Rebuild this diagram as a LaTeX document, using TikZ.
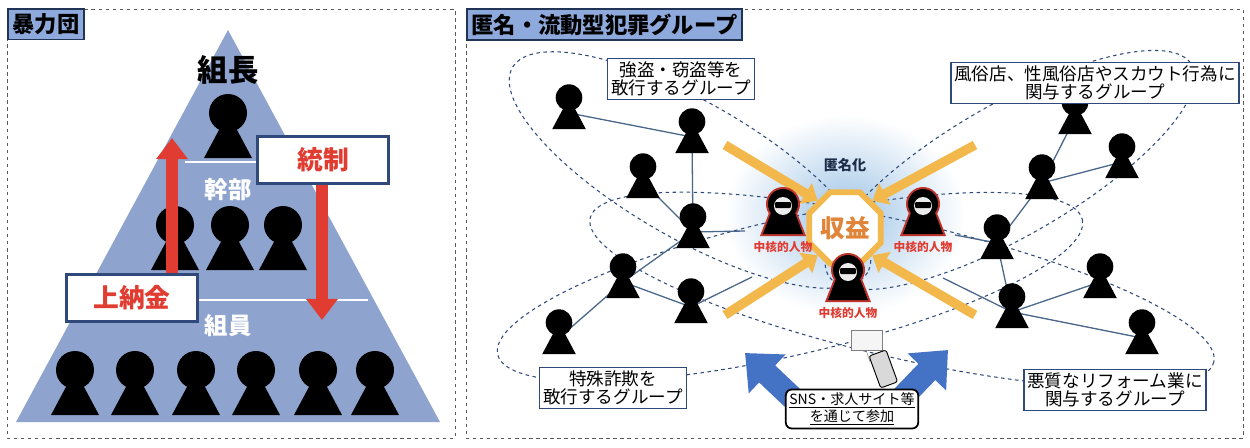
\documentclass[tikz,border=0pt]{standalone}
\usepackage{fontspec}
\setmainfont{Noto Sans CJK JP}
\usetikzlibrary{shapes.geometric,arrows.meta}
\definecolor{pyramid}{HTML}{8EA4CF}
\definecolor{titlefill}{HTML}{8EA9DB}
\definecolor{navy}{HTML}{2F4A7A}
\definecolor{alarm}{HTML}{E03C31}
\definecolor{gold}{HTML}{F2B84B}
\definecolor{profit}{HTML}{E0843A}
\definecolor{linkcol}{HTML}{4A6689}
\definecolor{arrowblue}{HTML}{4472C4}
\definecolor{glow}{HTML}{9DC3E6}
\newcommand{\fs}[1]{\fontsize{#1}{#1}\selectfont}
\tikzset{
  person/.pic={
    \fill[black] (0,-22) circle (19);
    \fill[black] (-24,23) -- (0,-22) -- (24,23) -- cycle;
  },
  hooded/.pic={
    \fill[alarm!85!black] (0,-9) circle (17);
    \fill[alarm!85!black] (-23,23) -- (-14,0) -- (14,0) -- (23,23) -- cycle;
    \fill[black] (0,-9) circle (15);
    \fill[black] (-20,21) -- (-12,0) -- (12,0) -- (20,21) -- cycle;
    \fill[white!85!gray] (0,-7) circle (9);
    \fill[black,rounded corners=1pt] (-8,-11) rectangle (8,-5);
  },
  titlebox/.style={draw=navy!70!black,line width=1.5pt,fill=titlefill,
    anchor=north west,inner sep=4pt,font=\fs{19}\bfseries},
  grpbox/.style={draw=navy,line width=1.2pt,fill=white,align=center,
    inner sep=3pt,font=\fs{15}},
  redbox/.style={draw=navy,line width=3pt,fill=white,text=alarm,
    minimum width=112,minimum height=40,font=\fs{22}\bfseries},
  link/.style={linkcol,line width=1.1pt},
  grpline/.style={navy,dashed,line width=0.9pt},
  frame/.style={gray!70!black,dashed,line width=0.8pt},
  flow/.style={gold,line width=8pt,-{Triangle[width=20pt,length=12pt]}},
  core/.style={text=alarm,font=\fs{10}\bfseries},
}
\begin{document}
\begin{tikzpicture}[x=0.03cm,y=-0.03cm]
\useasboundingbox (0,0) rectangle (1250,448);
% frames
\draw[frame] (7,9) rectangle (455,438);
\draw[frame] (466,9) rectangle (1243,438);
% ---- left panel ----
\fill[pyramid] (228,30) -- (440,422) -- (16,422) -- cycle;
\draw[white,line width=1.5pt] (185,162) -- (262,162);
\draw[white,line width=1.5pt] (193,300) -- (368,300);
\node[font=\fs{26}\bfseries] (boss) at (228,70) {組長};
\node[white,font=\fs{20}\bfseries] (exec) at (228,190) {幹部};
\node[white,font=\fs{20}\bfseries] (member) at (228,326) {組員};
\pic at (228,135) {person};
\foreach \x in {175,230,283} \pic at (\x,247) {person};
\foreach \x in {75,135,196,256,318,375} \pic at (\x,392) {person};
\coordinate (upfrom) at (172,280);
\coordinate (upto) at (172,138);
\coordinate (downfrom) at (322,175);
\coordinate (downto) at (322,320);
\draw[alarm,line width=10pt,-{Triangle[width=26pt,length=18pt]}] (upfrom) -- (upto);
\draw[alarm,line width=10pt,-{Triangle[width=26pt,length=18pt]}] (downfrom) -- (downto);
\node[redbox] (control) at (323,160) {統制};
\node[redbox] (tribute) at (132,298) {上納金};
\node[titlebox] (yakuza) at (7,8) {暴力団};
% ---- right panel ----
\shade[inner color=glow,outer color=white] (845,215) ellipse [x radius=120, y radius=100];
\draw[grpline,rotate around={-30:(690,170)}] (690,170) ellipse [x radius=205, y radius=68];
\draw[grpline,rotate around={30:(1010,170)}] (1010,170) ellipse [x radius=210, y radius=66];
\draw[grpline,rotate around={13:(790,287)}] (790,287) ellipse [x radius=300, y radius=68];
\draw[grpline,rotate around={-13:(902,290)}] (902,290) ellipse [x radius=320, y radius=68];
% members
\coordinate (a1) at (569,113);
\coordinate (a2) at (692,137);
\coordinate (a3) at (643,182);
\coordinate (a4) at (693,232);
\coordinate (a5) at (623,282);
\coordinate (a6) at (691,307);
\coordinate (a7) at (559,338);
\coordinate (b1) at (1075,118);
\coordinate (b2) at (1122,162);
\coordinate (b3) at (1042,183);
\coordinate (b4) at (997,243);
\coordinate (b5) at (1100,282);
\coordinate (b6) at (1012,312);
\coordinate (b7) at (1142,338);
\coordinate (ha) at (745,231);
\coordinate (hb) at (752,277);
\coordinate (hc) at (955,235);
\coordinate (hd) at (943,278);
\draw[link] (a1) -- (a2) -- (a4) -- (a3);
\draw[link] (a4) -- (ha);
\draw[link] (a4) -- (a5) -- (a6) -- (hb);
\draw[link] (a5) -- (a7);
\draw[link] (b1) -- (b3) -- (b2);
\draw[link] (b3) -- (b4) -- (hc);
\draw[link] (b4) -- (b6) -- (b5);
\draw[link] (b6) -- (b7);
\draw[link] (b6) -- (hd);
\foreach \p in {a1,a2,a3,a4,a5,a6,a7,b1,b2,b3,b4,b5,b6,b7}
  \pic[scale=0.7] at (\p) {person};
% profit core
\node[gold,draw,line width=5pt,fill=white,regular polygon,regular polygon sides=8,
  minimum size=66,text=profit,font=\fs{21}\bfseries,inner sep=0pt] (profit) at (845,228) {収益};
\node[font=\fs{12}\bfseries,text=navy!60!black] (anon) at (845,165) {匿名化};
\coordinate (f1) at (725,145);
\coordinate (f2) at (975,145);
\coordinate (f3) at (725,315);
\coordinate (f4) at (975,315);
\draw[flow] (f1) -- (profit.north west);
\draw[flow] (f2) -- (profit.north east);
\draw[flow] (f3) -- (profit.south west);
\draw[flow] (f4) -- (profit.south east);
\pic at (783,213) {hooded};
\pic at (923,213) {hooded};
\pic at (848,279) {hooded};
\node[core] (corea) at (783,247) {中核的人物};
\node[core] (coreb) at (923,247) {中核的人物};
\node[core] (corec) at (848,313) {中核的人物};
% recruitment
\coordinate (ra) at (800,405);
\coordinate (rb) at (745,353);
\coordinate (rc) at (895,405);
\coordinate (rd) at (948,350);
\draw[arrowblue,line width=20pt,-{Triangle[width=44pt,length=26pt]}] (ra) -- (rb);
\draw[arrowblue,line width=20pt,-{Triangle[width=44pt,length=26pt]}] (rc) -- (rd);
\draw[gray,fill=gray!8] (851,330) rectangle (882,350);
\draw[gray] (866,350) -- (870,362);
\draw[black,fill=gray!30,line width=0.8pt,rounded corners=2pt,rotate around={20:(883,368)}] (874,352) rectangle (892,386);
\node[draw,line width=1.5pt,rounded corners=5pt,fill=white,align=center,
  font=\fs{12},inner sep=3pt] (sns) at (852,409)
  {\underline{SNS・求人サイト等}\\\underline{を通じて参加}};
\node[grpbox] (robbery) at (681,79) {強盗・窃盗等を\\敢行するグループ};
\node[grpbox] (fraud) at (613,388) {特殊詐欺を\\敢行するグループ};
\node[grpbox] (sexind) at (1095,83) {風俗店、性風俗店やスカウト行為に\\関与するグループ};
\node[grpbox] (reform) at (1115,390) {悪質なリフォーム業に\\関与するグループ};
\node[titlebox] (gang) at (466,8) {匿名・流動型犯罪グループ};
\end{tikzpicture}
\end{document}
